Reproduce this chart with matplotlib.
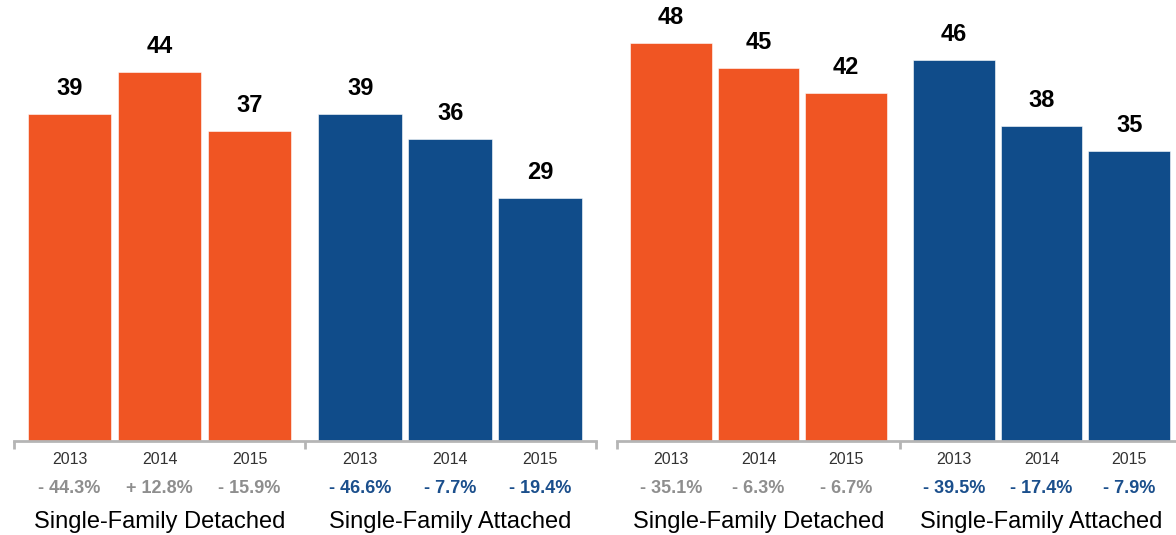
import matplotlib
matplotlib.use("Agg")
import matplotlib.pyplot as plt

plt.rcParams['font.family'] = ['Liberation Sans', 'DejaVu Sans']

years = ['2013', '2014', '2015']
categories = ['Single-Family Detached', 'Single-Family Attached']

left_detached = [39, 44, 37]
left_attached = [39, 36, 29]
left_detached_chg = ['- 44.3%', '+ 12.8%', '- 15.9%']
left_attached_chg = ['- 46.6%', '- 7.7%', '- 19.4%']

right_detached = [48, 45, 42]
right_attached = [46, 38, 35]
right_detached_chg = ['- 35.1%', '- 6.3%', '- 6.7%']
right_attached_chg = ['- 39.5%', '- 17.4%', '- 7.9%']

ORANGE = '#F05523'
BLUE = '#104C8A'
GRAY_TXT = '#8E8E8E'
BLUE_TXT = '#1B4F8C'
LINE = '#B5B5B5'

W, H = 1176, 535
fig = plt.figure(figsize=(W / 100, H / 100), dpi=100)

base_px = 94          # axis line, px from bottom
ymax = 52


def panel(left_px, right_px, xlim, px_per_unit, detached, attached, det_chg, att_chg,
          end_tick=True):
    ax = fig.add_axes([left_px / W, base_px / H, (right_px - left_px) / W,
                       ymax * px_per_unit / H])
    gap = 3.23
    groups = [(0, detached, det_chg, ORANGE, GRAY_TXT, categories[0]),
              (gap, attached, att_chg, BLUE, BLUE_TXT, categories[1])]
    for off, vals, chg, col, tcol, cat in groups:
        xs = [off + i for i in range(len(vals))]
        ax.bar(xs, vals, width=0.93, color=col, edgecolor='#ffffff',
               linewidth=0.4)
        for x, v, y, c in zip(xs, vals, years, chg):
            ax.annotate(str(v), (x, v), xytext=(0, 13.7), textcoords='offset points',
                        ha='center', va='baseline', fontsize=17, fontweight='bold',
                        color='black')
            ax.annotate(y, (x, 0), xycoords=('data', 'axes fraction'),
                        xytext=(0, -13.5), textcoords='offset points',
                        ha='center', va='center', fontsize=11.5, color='#333333')
            ax.annotate(c, (x, 0), xycoords=('data', 'axes fraction'),
                        xytext=(0, -34.5), textcoords='offset points',
                        ha='center', va='center', fontsize=13, fontweight='bold',
                        color=tcol)
        ax.annotate(cat, (off + 1, 0), xycoords=('data', 'axes fraction'),
                    xytext=(0, -58), textcoords='offset points',
                    ha='center', va='center', fontsize=17, color='black')

    ax.set_xlim(*xlim)
    ax.set_ylim(0, ymax)
    for s in ['top', 'right', 'left']:
        ax.spines[s].set_visible(False)
    ax.spines['bottom'].set_color(LINE)
    ax.spines['bottom'].set_linewidth(2)
    ticks = [xlim[0], (2 + gap) / 2]
    if end_tick:
        ticks.append(xlim[1])
    ax.set_xticks(ticks)
    ax.set_xticklabels([''] * len(ticks))
    ax.tick_params(axis='x', direction='out', length=6, width=2, color=LINE)
    ax.set_yticks([])
    return ax


panel(14, 596, (-0.617, 5.85), 8.38, left_detached, left_attached,
      left_detached_chg, left_attached_chg)
panel(617, 1176, (-0.616, 5.765), 8.29, right_detached, right_attached,
      right_detached_chg, right_attached_chg, end_tick=False)

fig.savefig('out.png', dpi=100)
